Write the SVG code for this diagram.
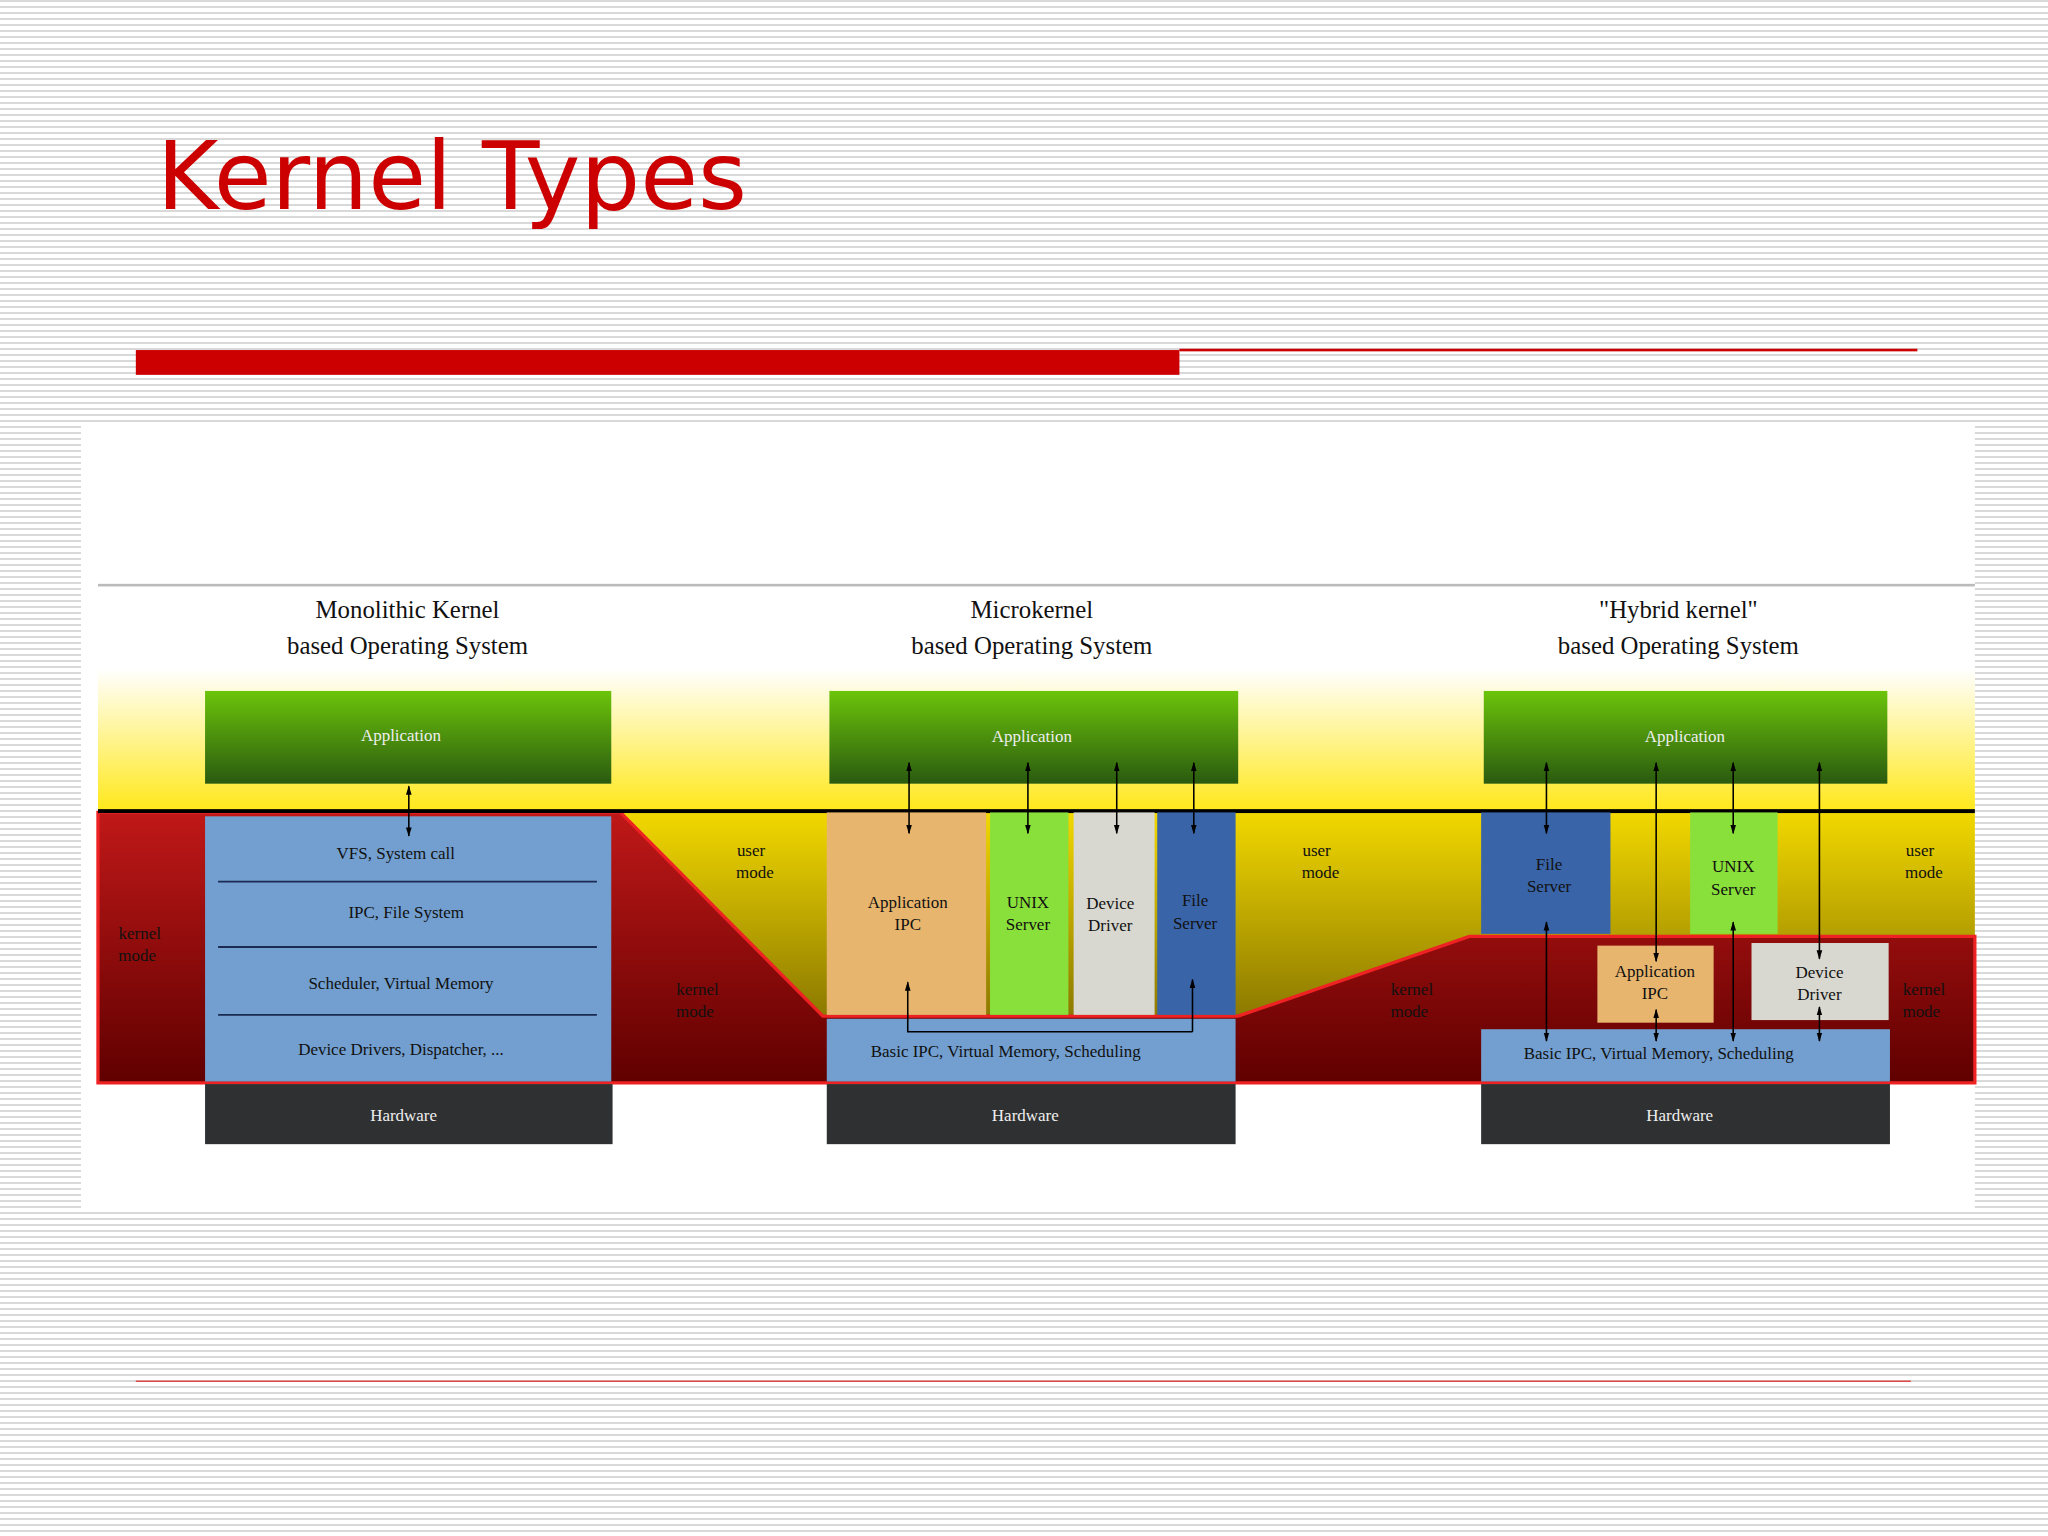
<svg xmlns="http://www.w3.org/2000/svg" width="2048" height="1536" viewBox="0 0 2048 1536">
<defs>
<pattern id="stripes" width="10" height="6" patternUnits="userSpaceOnUse"><rect width="10" height="6" fill="#ffffff"/><rect y="0" width="10" height="2" fill="#d9d9d9"/></pattern>
<linearGradient id="yel" x1="0" y1="0" x2="0" y2="1"><stop offset="0" stop-color="#ffffff"/><stop offset="1" stop-color="#ffe81a"/></linearGradient>
<linearGradient id="red" x1="0" y1="0" x2="0" y2="1"><stop offset="0" stop-color="#c01818"/><stop offset="1" stop-color="#600000"/></linearGradient>
<linearGradient id="olive" x1="0" y1="0" x2="0" y2="1"><stop offset="0" stop-color="#f2d800"/><stop offset="1" stop-color="#6a5a00"/></linearGradient>
<linearGradient id="grn" x1="0" y1="0" x2="0" y2="1"><stop offset="0" stop-color="#6cc40a"/><stop offset="1" stop-color="#2a5a10"/></linearGradient>
<marker id="ah" viewBox="0 0 10 10" refX="9" refY="5" markerWidth="6" markerHeight="8" orient="auto-start-reverse"><path d="M0,2 L10,5 L0,8 z" fill="#000"/></marker>
<style>
.t{font-family:"Liberation Serif",serif;font-size:13px;fill:#111;text-anchor:middle}
.tw{font-family:"Liberation Serif",serif;font-size:13px;fill:#eee;text-anchor:middle}
.h{font-family:"Liberation Serif",serif;font-size:19px;fill:#111;text-anchor:middle}
.ln{stroke:#000;stroke-width:1.2;fill:none}
.blue{fill:#729fcf}
.hw{fill:#2e3032}
</style>
</defs>
<rect width="2048" height="1536" fill="url(#stripes)"/>
<g transform="scale(1.30612)">
<text x="120" y="160" font-family="DejaVu Sans, sans-serif" font-size="72" fill="#cc0000">Kernel Types</text>
<rect x="104" y="268" width="799" height="19" fill="#cc0000"/>
<rect x="903" y="267" width="565" height="2" fill="#cc0000"/>
<rect x="104" y="1057" width="1359" height="1" fill="#dd3333"/>
<rect x="62" y="326" width="1450" height="599" fill="#ffffff"/>
<rect x="75" y="447" width="1437" height="2" fill="#bbbbbb"/>
<text class="h" x="312" y="473">Monolithic Kernel</text>
<text class="h" x="312" y="501">based Operating System</text>
<text class="h" x="790" y="473">Microkernel</text>
<text class="h" x="790" y="501">based Operating System</text>
<text class="h" x="1285" y="473">"Hybrid kernel"</text>
<text class="h" x="1285" y="501">based Operating System</text>
<rect x="75" y="512" width="1437" height="109" fill="url(#yel)"/>
<rect x="75" y="622" width="1437" height="207" fill="url(#olive)"/>
<path d="M75,622 L475,622 L630,778 L948,778 L1125,717 L1512,717 L1512,829 L75,829 Z" fill="url(#red)" stroke="#ee2222" stroke-width="2.5"/>
<rect x="75" y="619.5" width="1437" height="3" fill="#000"/>
<g id="mono">
<rect x="157" y="529" width="311" height="71" fill="url(#grn)"/><text class="tw" x="307" y="567">Application</text>
<rect x="157" y="625" width="311" height="203" class="blue"/>
<path d="M167,675H457M167,725H457M167,777H457" stroke="#1a2a50" stroke-width="1.5"/>
<text class="t" x="303" y="658">VFS, System call</text>
<text class="t" x="311" y="703">IPC, File System</text>
<text class="t" x="307" y="757">Scheduler, Virtual Memory</text>
<text class="t" x="307" y="808">Device Drivers, Dispatcher, ...</text>
<rect x="157" y="830" width="312" height="46" class="hw"/><text class="tw" x="309" y="858">Hardware</text>
</g>
<g id="micro">
<rect x="635" y="529" width="313" height="71" fill="url(#grn)"/><text class="tw" x="790" y="568">Application</text>
<rect x="633" y="622" width="122" height="155" fill="#e8b56e"/><text class="t" x="695" y="695">Application</text><text class="t" x="695" y="712">IPC</text>
<rect x="758" y="622" width="60" height="155" fill="#8ae03a"/><text class="t" x="787" y="695">UNIX</text><text class="t" x="787" y="712">Server</text>
<rect x="822" y="622" width="62" height="155" fill="#d8d8d0"/><text class="t" x="850" y="696">Device</text><text class="t" x="850" y="713">Driver</text>
<rect x="886" y="622" width="60" height="155" fill="#3a64a8"/><text class="t" x="915" y="694">File</text><text class="t" x="915" y="711">Server</text>
<rect x="633" y="780" width="313" height="48" class="blue"/><text class="t" x="770" y="809">Basic IPC, Virtual Memory, Scheduling</text>
<rect x="633" y="830" width="313" height="46" class="hw"/><text class="tw" x="785" y="858">Hardware</text>
</g>
<g id="hybrid">
<rect x="1136" y="529" width="309" height="71" fill="url(#grn)"/><text class="tw" x="1290" y="568">Application</text>
<rect x="1134" y="622" width="99" height="93" fill="#3a64a8"/><text class="t" x="1186" y="666">File</text><text class="t" x="1186" y="683">Server</text>
<rect x="1294" y="622" width="67" height="93" fill="#8ae03a"/><text class="t" x="1327" y="668">UNIX</text><text class="t" x="1327" y="685">Server</text>
<rect x="1223" y="724" width="89" height="59" fill="#e8b56e"/><text class="t" x="1267" y="748">Application</text><text class="t" x="1267" y="765">IPC</text>
<rect x="1341" y="722" width="105" height="59" fill="#d8d8d0"/><text class="t" x="1393" y="749">Device</text><text class="t" x="1393" y="766">Driver</text>
<rect x="1134" y="788" width="313" height="40" class="blue"/><text class="t" x="1270" y="811">Basic IPC, Virtual Memory, Scheduling</text>
<rect x="1134" y="830" width="313" height="46" class="hw"/><text class="tw" x="1286" y="858">Hardware</text>
</g>
<g id="labels">
<text class="t" x="107" y="719">kernel</text><text class="t" x="105" y="736">mode</text>
<text class="t" x="575" y="655">user</text><text class="t" x="578" y="672">mode</text>
<text class="t" x="534" y="762">kernel</text><text class="t" x="532" y="779">mode</text>
<text class="t" x="1008" y="655">user</text><text class="t" x="1011" y="672">mode</text>
<text class="t" x="1081" y="762">kernel</text><text class="t" x="1079" y="779">mode</text>
<text class="t" x="1470" y="655">user</text><text class="t" x="1473" y="672">mode</text>
<text class="t" x="1473" y="762">kernel</text><text class="t" x="1471" y="779">mode</text>
</g>
<g id="connectors" class="ln">
<path d="M313,602V640" marker-start="url(#ah)" marker-end="url(#ah)"/>
<path d="M696,584V638" marker-start="url(#ah)" marker-end="url(#ah)"/>
<path d="M787,584V638" marker-start="url(#ah)" marker-end="url(#ah)"/>
<path d="M855,584V638" marker-start="url(#ah)" marker-end="url(#ah)"/>
<path d="M914,584V638" marker-start="url(#ah)" marker-end="url(#ah)"/>
<path d="M913,790H695V752" marker-end="url(#ah)"/>
<path d="M913,790V750" marker-end="url(#ah)"/>
<path d="M1184,584V638" marker-start="url(#ah)" marker-end="url(#ah)"/>
<path d="M1268,584V736" marker-start="url(#ah)" marker-end="url(#ah)"/>
<path d="M1327,584V638" marker-start="url(#ah)" marker-end="url(#ah)"/>
<path d="M1393,584V734" marker-start="url(#ah)" marker-end="url(#ah)"/>
<path d="M1184,706V797" marker-start="url(#ah)" marker-end="url(#ah)"/>
<path d="M1268,773V797" marker-start="url(#ah)" marker-end="url(#ah)"/>
<path d="M1327,706V797" marker-start="url(#ah)" marker-end="url(#ah)"/>
<path d="M1393,771V797" marker-start="url(#ah)" marker-end="url(#ah)"/>
</g>
</g>
</svg>
